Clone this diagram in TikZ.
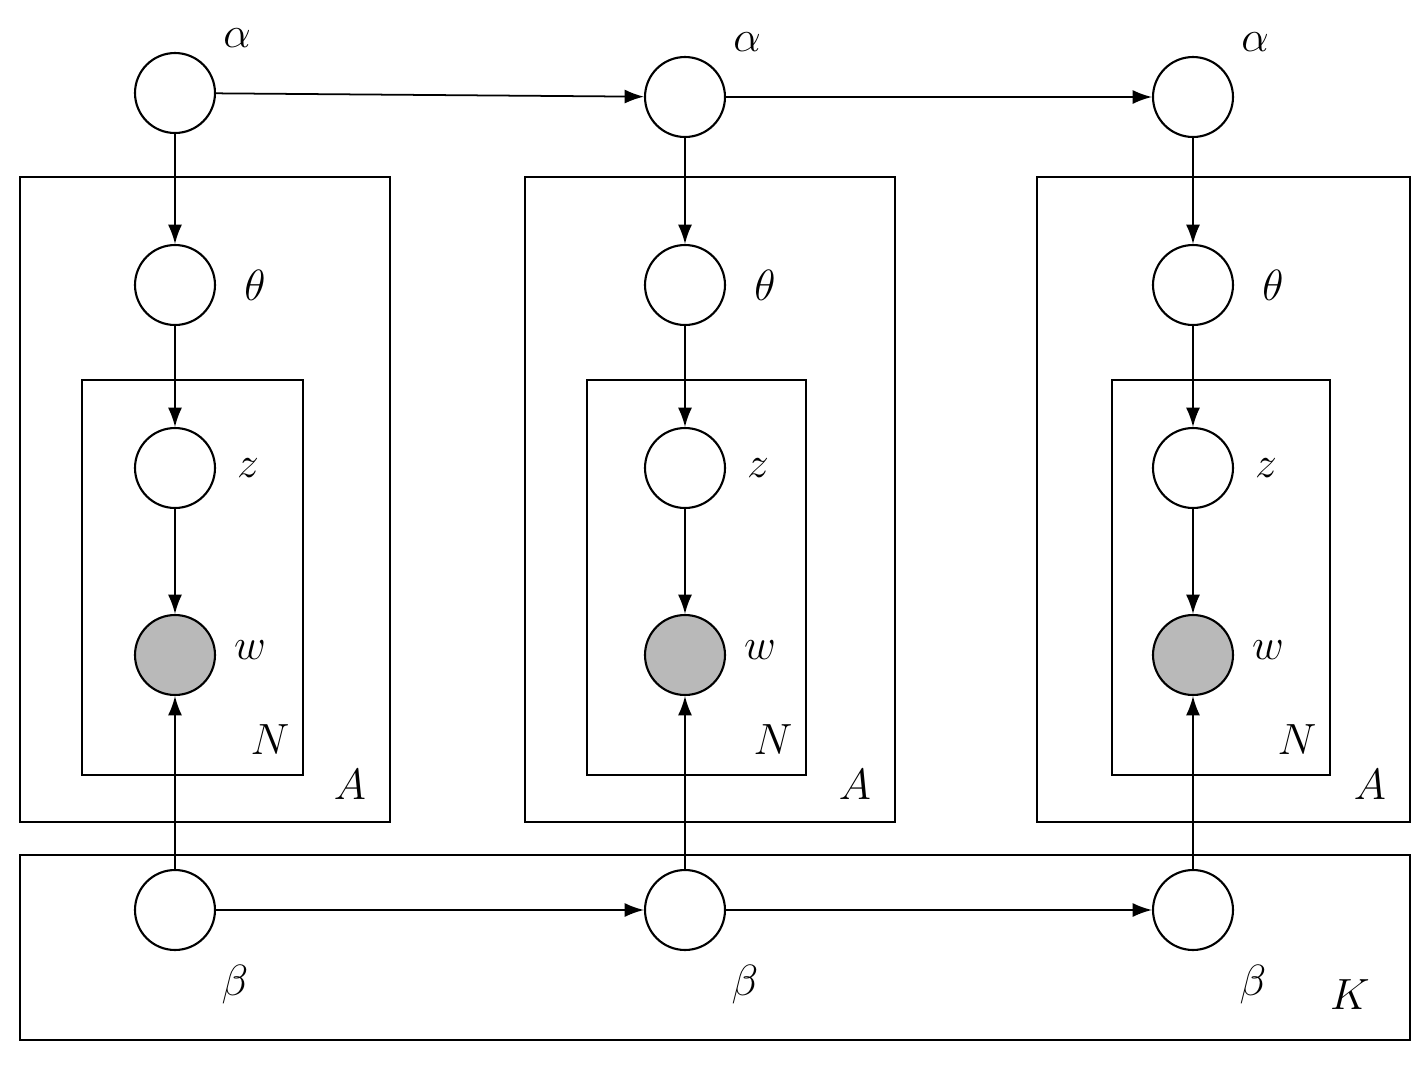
\documentclass[tikz,border=0pt]{standalone}
\usetikzlibrary{arrows.meta}
\begin{document}
\begin{tikzpicture}[x=0.02cm,y=-0.02cm,
  v/.style={circle,draw,line width=1.2pt,minimum size=1.6cm,inner sep=0pt},
  obs/.style={v,fill=gray!55},
  plate/.style={draw,line width=1.2pt},
  lab/.style={font=\fontsize{30}{34}\selectfont},
  plab/.style={font=\fontsize{24}{28}\selectfont},
  e/.style={-{Latex[length=11pt,width=8pt]},line width=1pt}]
\useasboundingbox (0,0) rectangle (1428,1069);
\draw[plate] (20,855) rectangle (1410,1040);
\node[plab] (K) at (1350,995) {$K$};
\foreach \i/\cx/\ay/\ox/\oX/\ix/\iX in {1/175/93/20/390/82/303, 2/685/97/525/895/587/806, 3/1193/97/1037/1410/1112/1330}{
  \draw[plate] (\ox,177) rectangle (\oX,822);
  \draw[plate] (\ix,380) rectangle (\iX,775);
  \node[v] (a\i) at (\cx,\ay) {};
  \node[v] (t\i) at (\cx,285) {};
  \node[v] (z\i) at (\cx,468) {};
  \node[obs] (w\i) at (\cx,655) {};
  \node[v] (b\i) at (\cx,910) {};
  \node[lab] (la\i) at (\cx+62,\ay-55) {$\alpha$};
  \node[lab] (lt\i) at (\cx+80,285) {$\theta$};
  \node[lab] (lz\i) at (\cx+73,468) {$z$};
  \node[lab] (lw\i) at (\cx+75,650) {$w$};
  \node[lab] (lb\i) at (\cx+60,985) {$\beta$};
  \node[plab] (N\i) at (\iX-33,740) {$N$};
  \node[plab] (A\i) at (\oX-40,785) {$A$};
  \draw[e] (a\i) -- (t\i);
  \draw[e] (t\i) -- (z\i);
  \draw[e] (z\i) -- (w\i);
  \draw[e] (b\i) -- (w\i);
}
\draw[e] (a1) -- (a2);
\draw[e] (a2) -- (a3);
\draw[e] (b1) -- (b2);
\draw[e] (b2) -- (b3);
\end{tikzpicture}
\end{document}
